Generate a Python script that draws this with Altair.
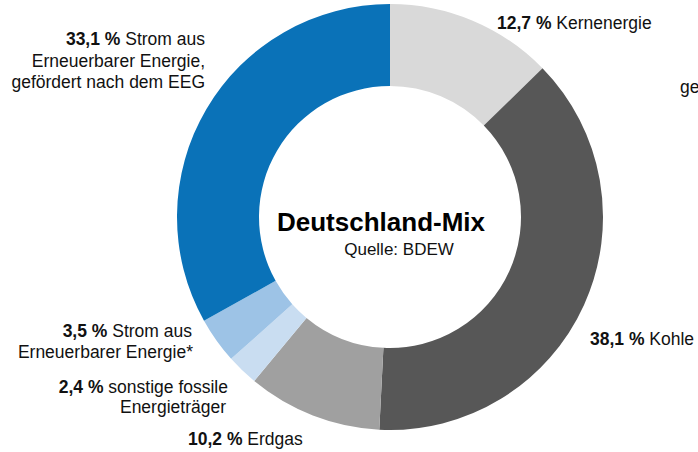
import altair as alt
import pandas as pd

# --- data ---
categories = ["Kernenergie", "Kohle", "Erdgas", "sonstige fossile Energieträger",
              "Strom aus Erneuerbarer Energie*", "Strom aus Erneuerbarer Energie (EEG)"]
values = [12.7, 38.1, 10.2, 2.4, 3.5, 33.1]
colors = ["#d9d9d9", "#575757", "#a0a0a0", "#c9ddf1", "#9dc3e6", "#0a72b8"]

bold_parts = ["12,7 %", "38,1 %", "10,2 %", "2,4 %", "3,5 %", "33,1 %"]

df = pd.DataFrame({"cat": categories, "value": values, "idx": list(range(len(values)))})

# --- layout of labels (positions kept separate from data) ---
FS = 17.5
FONT = "Liberation Sans"
SP = 0.278 * FS          # width of a space
W_STROM = 4.557 * FS     # width of "Strom aus"
W_SONST = 6.836 * FS     # width of "sonstige fossile"
W_B4 = 3.113 * FS        # width of "12,7 %" etc. in bold

lab_rows = [
    # text, x, y, align, weight
    (bold_parts[0], 497, 29, "left", "bold"),
    ("Kernenergie", 497 + W_B4 + SP, 29, "left", "normal"),
    (bold_parts[1], 590, 345, "left", "bold"),
    ("Kohle", 590 + W_B4 + SP, 345, "left", "normal"),
    (bold_parts[2], 188, 445, "left", "bold"),
    ("Erdgas", 188 + W_B4 + SP, 445, "left", "normal"),
    (bold_parts[3], 228 - W_SONST - SP, 393, "right", "bold"),
    ("sonstige fossile", 228, 393, "right", "normal"),
    ("Energieträger", 226, 413, "right", "normal"),
    (bold_parts[4], 192 - W_STROM - SP, 337, "right", "bold"),
    ("Strom aus", 192, 337, "right", "normal"),
    ("Erneuerbarer Energie*", 193, 358, "right", "normal"),
    (bold_parts[5], 205 - W_STROM - SP, 45, "right", "bold"),
    ("Strom aus", 205, 45, "right", "normal"),
    ("Erneuerbarer Energie,", 205, 67, "right", "normal"),
    ("gefördert nach dem EEG", 205, 88, "right", "normal"),
    ("ge", 680, 93, "left", "normal"),
]
labels = pd.DataFrame(lab_rows, columns=["text", "x", "y", "align", "weight"])

CX, CY = 390, 217

donut = alt.Chart(df).mark_arc(innerRadius=131, outerRadius=213, stroke=None).encode(
    theta=alt.Theta("value:Q", stack=True),
    order=alt.Order("idx:Q"),
    color=alt.Color("cat:N", scale=alt.Scale(domain=categories, range=colors), legend=None),
    x=alt.value(CX),
    y=alt.value(CY),
)

def text_layer(align, weight):
    sub = labels[(labels["align"] == align) & (labels["weight"] == weight)]
    return alt.Chart(sub).mark_text(
        align=align, baseline="alphabetic", font=FONT, fontSize=FS,
        fontWeight=weight, color="#111111"
    ).encode(
        x=alt.X("x:Q", scale=None, axis=None),
        y=alt.Y("y:Q", scale=None, axis=None),
        text="text:N",
    )

txt_layers = [text_layer(a, w) for a in ["left", "right"] for w in ["bold", "normal"]]

title_df = pd.DataFrame({"t": ["Deutschland-Mix"]})
title = alt.Chart(title_df).mark_text(
    align="center", baseline="alphabetic", font=FONT, fontSize=26, fontWeight="bold", color="#000000"
).encode(x=alt.value(381), y=alt.value(231), text="t:N")

src_df = pd.DataFrame({"t": ["Quelle: BDEW"]})
source = alt.Chart(src_df).mark_text(
    align="center", baseline="alphabetic", font=FONT, fontSize=17, color="#111111"
).encode(x=alt.value(399), y=alt.value(255), text="t:N")

chart = alt.layer(donut, *txt_layers, title, source).properties(
    width=698, height=452, autosize=alt.AutoSizeParams(type="none"), padding=0,
    background="white"
).configure_view(stroke=None)

chart.save("out.html", embed_options={"renderer": "svg", "actions": False})
